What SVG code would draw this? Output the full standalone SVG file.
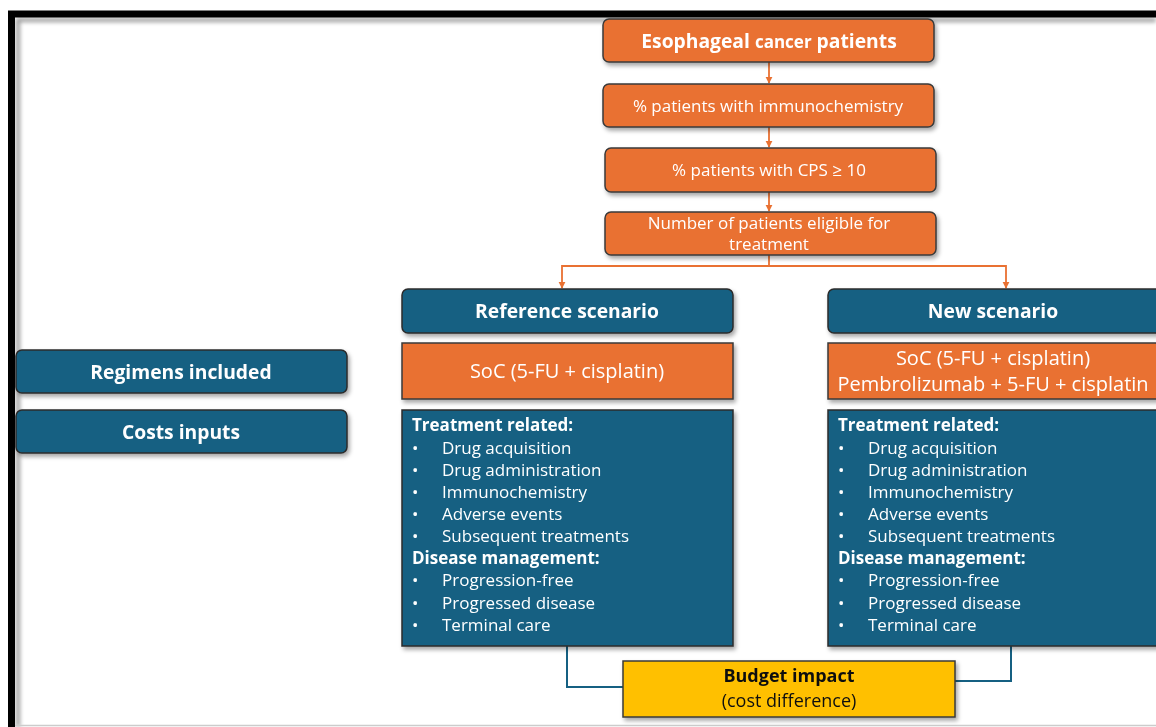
<svg xmlns="http://www.w3.org/2000/svg" width="1156" height="727" viewBox="0 0 1156 727">
<defs>
<filter id="sh" x="-10%" y="-20%" width="125%" height="150%">
<feDropShadow dx="2" dy="3" stdDeviation="2" flood-color="#000" flood-opacity="0.35"/>
</filter>
<filter id="fsh" x="-5%" y="-5%" width="110%" height="110%">
<feGaussianBlur stdDeviation="2"/>
</filter>
<marker id="ao" viewBox="0 0 10 10" refX="9" refY="5" markerWidth="4" markerHeight="4" orient="auto">
<path d="M0,0 L10,5 L0,10 z" fill="#E97132"/>
</marker>
<style>
text{font-family:"Open Sans","Liberation Sans",sans-serif;fill:#fff}
.or{fill:#E97132;stroke:#3a3a3a;stroke-width:1.5}
.bl{fill:#156082;stroke:#2b2b2b;stroke-width:1.5}
.yl{fill:#FFC000;stroke:#3a3a3a;stroke-width:1.5}
.b{font-weight:bold}
.c{text-anchor:middle}
.ocon{fill:none;stroke:#E97132;stroke-width:1.8}
.bcon{fill:none;stroke:#156082;stroke-width:2}
.li{font-size:17px}
.ch{font-size:17px}
.hd{font-size:19.3px;font-weight:bold}
.rg{font-size:20px}
.bt{font-size:18px;fill:#111}
</style>
</defs>
<rect width="1156" height="727" fill="#fff"/>
<path d="M18,727 V20 H1156" fill="none" stroke="#999" stroke-width="4" filter="url(#fsh)"/>
<path d="M11.5,727 V14 H1156" fill="none" stroke="#000" stroke-width="7"/>
<line x1="15" y1="725.5" x2="1156" y2="725.5" stroke="#ccc" stroke-width="1.5"/>

<g id="connectors">
<line class="ocon" x1="769" y1="62" x2="769" y2="83" marker-end="url(#ao)"/>
<line class="ocon" x1="769" y1="127" x2="769" y2="147" marker-end="url(#ao)"/>
<line class="ocon" x1="769" y1="192" x2="769" y2="211" marker-end="url(#ao)"/>
<polyline class="ocon" points="769,255 769,266 562,266 562,288" marker-end="url(#ao)"/>
<polyline class="ocon" points="769,266 1006,266 1006,288" marker-end="url(#ao)"/>
<polyline class="bcon" points="567,646 567,687 623,687"/>
<polyline class="bcon" points="1011,646 1011,681 955,681"/>
</g>

<g id="n-esophageal" filter="url(#sh)">
<rect class="or" x="603" y="19" width="331" height="43" rx="6"/>
<text class="c hd" x="769" y="48">Esophageal <tspan font-size="17">cancer</tspan> patients</text>
</g>
<g id="n-immuno" filter="url(#sh)">
<rect class="or" x="603" y="84" width="331" height="43" rx="6"/>
<text class="c ch" x="768" y="112">% patients with immunochemistry</text>
</g>
<g id="n-cps" filter="url(#sh)">
<rect class="or" x="605" y="148" width="331" height="44" rx="6"/>
<text class="c ch" x="769" y="176">% patients with CPS ≥ 10</text>
</g>
<g id="n-eligible" filter="url(#sh)">
<rect class="or" x="605" y="212" width="331" height="43" rx="6"/>
<text class="c ch" x="769" y="229">Number of patients eligible for</text>
<text class="c ch" x="769" y="250">treatment</text>
</g>

<g id="n-reference" filter="url(#sh)">
<rect class="bl" x="402" y="289" width="331" height="44" rx="6"/>
<text class="c hd" x="567" y="318">Reference scenario</text>
</g>
<g id="n-new" filter="url(#sh)">
<rect class="bl" x="828" y="289" width="340" height="44" rx="6"/>
<text class="c hd" x="993" y="318">New scenario</text>
</g>

<g id="n-regimens" filter="url(#sh)">
<rect class="bl" x="16" y="350" width="331" height="43" rx="6"/>
<text class="c hd" x="181" y="379">Regimens included</text>
</g>
<g id="n-costs" filter="url(#sh)">
<rect class="bl" x="16" y="410" width="331" height="43" rx="6"/>
<text class="c hd" x="181" y="439">Costs inputs</text>
</g>

<g id="n-ref-regimen" filter="url(#sh)">
<rect class="or" x="402" y="343" width="331" height="56"/>
<text class="c rg" x="567" y="378">SoC (5-FU + cisplatin)</text>
</g>
<g id="n-new-regimen" filter="url(#sh)">
<rect class="or" x="828" y="343" width="340" height="56"/>
<text class="c rg" x="993" y="365">SoC (5-FU + cisplatin)</text>
<text class="c rg" x="993" y="391">Pembrolizumab + 5-FU + cisplatin</text>
</g>

<g id="n-ref-costs" filter="url(#sh)">
<rect class="bl" x="402" y="410" width="331" height="236"/>
<text class="li b" x="412" y="431">Treatment related:</text>
<text class="li" x="412" y="454">•<tspan x="442">Drug acquisition</tspan></text>
<text class="li" x="412" y="476">•<tspan x="442">Drug administration</tspan></text>
<text class="li" x="412" y="498">•<tspan x="442">Immunochemistry</tspan></text>
<text class="li" x="412" y="520">•<tspan x="442">Adverse events</tspan></text>
<text class="li" x="412" y="542">•<tspan x="442">Subsequent treatments</tspan></text>
<text class="li b" x="412" y="564">Disease management:</text>
<text class="li" x="412" y="586">•<tspan x="442">Progression-free</tspan></text>
<text class="li" x="412" y="609">•<tspan x="442">Progressed disease</tspan></text>
<text class="li" x="412" y="631">•<tspan x="442">Terminal care</tspan></text>
</g>
<g id="n-new-costs" filter="url(#sh)">
<rect class="bl" x="828" y="410" width="340" height="236"/>
<text class="li b" x="838" y="431">Treatment related:</text>
<text class="li" x="838" y="454">•<tspan x="868">Drug acquisition</tspan></text>
<text class="li" x="838" y="476">•<tspan x="868">Drug administration</tspan></text>
<text class="li" x="838" y="498">•<tspan x="868">Immunochemistry</tspan></text>
<text class="li" x="838" y="520">•<tspan x="868">Adverse events</tspan></text>
<text class="li" x="838" y="542">•<tspan x="868">Subsequent treatments</tspan></text>
<text class="li b" x="838" y="564">Disease management:</text>
<text class="li" x="838" y="586">•<tspan x="868">Progression-free</tspan></text>
<text class="li" x="838" y="609">•<tspan x="868">Progressed disease</tspan></text>
<text class="li" x="838" y="631">•<tspan x="868">Terminal care</tspan></text>
</g>

<g id="n-budget" filter="url(#sh)">
<rect class="yl" x="623" y="661" width="332" height="56"/>
<text class="c bt b" x="789" y="682">Budget impact</text>
<text class="c bt" x="789" y="707">(cost difference)</text>
</g>
</svg>
